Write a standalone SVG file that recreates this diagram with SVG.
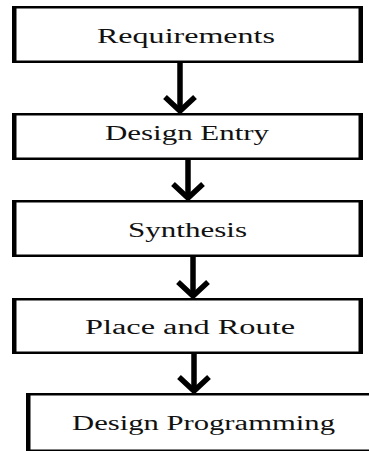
<svg xmlns="http://www.w3.org/2000/svg" width="369" height="451" viewBox="0 0 369 451">
<style>
.o{fill:#000}
.i{fill:#fff}
.t{font-family:"Liberation Serif","Times New Roman",serif;font-size:20px;fill:#111;text-anchor:middle}
.c{stroke:#000;fill:none;stroke-width:5.5;stroke-linecap:butt;stroke-linejoin:miter}
</style>
<rect width="369" height="451" fill="#fff"/>
<g id="n1"><rect class="o" x="12" y="6" width="351" height="57"/><rect class="i" x="16.5" y="8.5" width="342" height="52"/><text class="t" x="186" y="43" textLength="178" lengthAdjust="spacingAndGlyphs">Requirements</text></g>
<g id="n2"><rect class="o" x="12" y="113" width="351" height="47"/><rect class="i" x="16.5" y="115.5" width="342" height="42"/><text class="t" x="187" y="140" textLength="164" lengthAdjust="spacingAndGlyphs">Design Entry</text></g>
<g id="n3"><rect class="o" x="12" y="200" width="351" height="57"/><rect class="i" x="16.5" y="202.5" width="342" height="52"/><text class="t" x="187.5" y="237" textLength="119" lengthAdjust="spacingAndGlyphs">Synthesis</text></g>
<g id="n4"><rect class="o" x="12" y="298" width="351" height="56"/><rect class="i" x="16.5" y="300.5" width="342" height="51"/><text class="t" x="190" y="334" textLength="210" lengthAdjust="spacingAndGlyphs">Place and Route</text></g>
<g id="n5"><rect class="o" x="26" y="393" width="360" height="60"/><rect class="i" x="30.5" y="395.5" width="360" height="54"/><text class="t" x="203.5" y="430" textLength="263" lengthAdjust="spacingAndGlyphs">Design Programming</text></g>
<g id="connectors">
<line class="c" x1="180" y1="63" x2="180" y2="110"/><polyline class="c" points="165,97 180,111 195,97"/>
<line class="c" x1="188" y1="160" x2="188" y2="197"/><polyline class="c" points="173,184 188,198 203,184"/>
<line class="c" x1="193" y1="257" x2="193" y2="295"/><polyline class="c" points="178,282 193,296 208,282"/>
<line class="c" x1="194" y1="354" x2="194" y2="390"/><polyline class="c" points="179,377 194,391 209,377"/>
</g>
</svg>
